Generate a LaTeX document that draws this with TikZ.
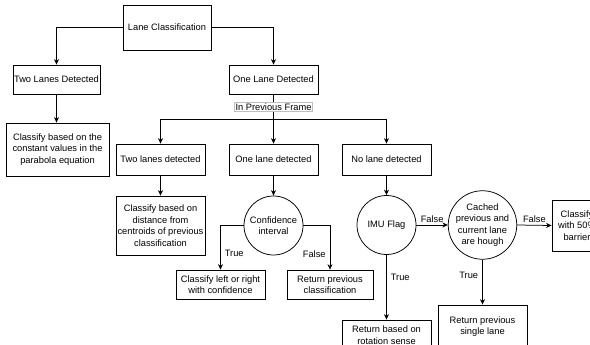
\documentclass[tikz,border=0pt]{standalone}
\usepackage{fontspec}
\setmainfont{Liberation Sans}
\usetikzlibrary{arrows.meta,positioning}

\begin{document}
\begin{tikzpicture}[x=1pt, y=-1pt, % one unit is one pixel of the sketch
    font=\fontsize{9.3}{11.5}\selectfont,
    box/.style={draw, line width=0.75pt, align=center, inner sep=1pt},
    decision/.style={draw, circle, line width=0.75pt, align=center,
      minimum size=59pt, inner sep=0pt},
    arr/.style={-{Stealth[length=5.5pt, width=5pt]}, line width=0.75pt},
    lbl/.style={inner sep=1pt}
%    ,arr/.style={->}
   ]
    \useasboundingbox (0,0) rectangle (590,345);
    \clip (0,0) rectangle (590,345);

    % top level
    \node[box, minimum width=88pt, minimum height=45pt] (lc) at (167,27.5) {Lane Classification};
    \node[box, minimum width=87pt, minimum height=29pt] (two) at (56.5,79.5) {Two Lanes Detected};
    \node[box, minimum width=89pt, minimum height=29pt] (one) at (273.5,79.5) {One Lane Detected};
    \node[box, minimum width=103pt, minimum height=53pt] (cbc) at (57.5,149.5)
      {Classify based on the\\constant values in the\\parabola equation};

    % previous frame
    \node[box, minimum width=89pt, minimum height=31pt] (tld) at (160.5,159.5) {Two lanes detected};
    \node[box, minimum width=89pt, minimum height=31pt] (old) at (273.5,159.5) {One lane detected};
    \node[box, minimum width=89pt, minimum height=31pt] (nld) at (386.5,159.5) {No lane detected};
    \coordinate (split) at (273.5,119);

    \node[box, minimum width=89pt, minimum height=59pt] (cbd) at (160.5,225.5)
      {Classify based on\\distance from\\centroids of previous\\classification};
    \node[decision] (ci) at (273.5,225.5) {Confidence\\interval};
    \node[box, minimum width=89pt, minimum height=29pt] (clr) at (220.5,284.5)
      {Classify left or right\\with confidence};
    \node[box, minimum width=86pt, minimum height=29pt] (rpc) at (330,284.5)
      {Return previous\\classification};

    \node[decision] (imu) at (386.5,225) {IMU Flag};
    \node[box, minimum width=89pt, minimum height=30pt] (rbr) at (386.5,335)
      {Return based on\\rotation sense};
    \node[decision] (cached) at (482.5,225) {Cached\\previous and\\current lane\\are hough};
    \node[box, minimum width=89pt, minimum height=43pt] (rps) at (482.5,326.5)
      {Return previous\\single lane};
    \node[box, minimum width=50pt, minimum height=51pt] (c50) at (577,225.5)
      {Classify\\with 50\%\\barrier};

    % connectors
    \draw[arr] (lc.west) -| (two.north);
    \draw[arr] (lc.east) -| (one.north);
    \draw[arr] (two.south) -- (two.south |- cbc.north);
    \draw[line width=0.75pt] (one.south) -- node[lbl, draw=black!25, fill=white] {In Previous Frame} (split);
    \draw[arr] (split) -| (tld.north);
    \draw[arr] (split) -- (old.north);
    \draw[arr] (split) -| (nld.north);

    \draw[arr] (tld.south) -- (cbd.north);
    \draw[arr] (old.south) -- (ci.north);
    \draw[arr] (ci.west) -| node[lbl, pos=0.82, right=3pt] {True} (clr.north);
    \draw[arr] (ci.east) -| node[lbl, pos=0.82, left=3pt] {False} (rpc.north);

    \draw[arr] (nld.south) -- (imu.north);
    \draw[arr] (imu.south) -- node[lbl, pos=0.34, right=3pt] {True} (rbr.north);
    \draw[arr] (imu.east) -- node[lbl, above=1pt] {False} (cached.west);
    \draw[arr] (cached.east) -- node[lbl, above=1pt] {False} (c50.west);
    \draw[arr] (cached.south) -- node[lbl, pos=0.35, left=3pt] {True} (rps.north);
\end{tikzpicture}
\end{document}
